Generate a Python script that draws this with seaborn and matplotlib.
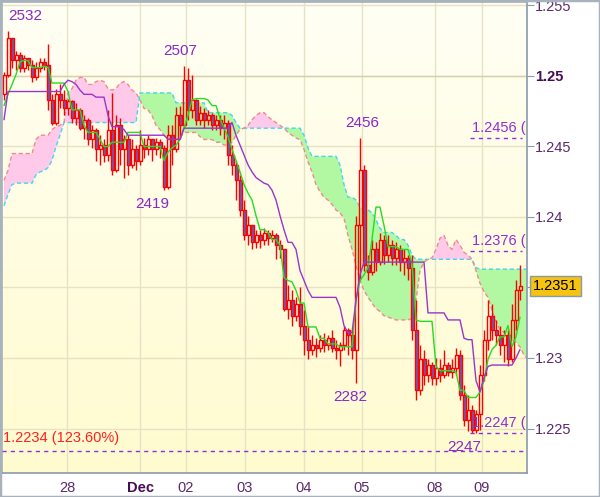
import numpy as np
import matplotlib
matplotlib.use('Agg')
import matplotlib.pyplot as plt
import matplotlib.transforms as mtransforms
from matplotlib.colors import LinearSegmentedColormap
from matplotlib.patches import Rectangle
import seaborn as sns

# --- data (EUR/USD hourly, prices in pips: 2532 -> 1.2532) ---
opens = [2487, 2501, 2527, 2511, 2515, 2506, 2513, 2508, 2499, 2506,
         2510, 2508, 2483, 2467, 2487, 2483, 2477, 2482, 2470, 2476,
         2463, 2469, 2455, 2462, 2448, 2451, 2444, 2462, 2433, 2465,
         2448, 2455, 2437, 2448, 2440, 2451, 2448, 2455, 2448, 2453,
         2449, 2421, 2458, 2448, 2472, 2465, 2497, 2476, 2483, 2469,
         2474, 2469, 2472, 2465, 2469, 2463, 2467, 2444, 2437, 2426,
         2405, 2387, 2394, 2382, 2387, 2384, 2389, 2385, 2387, 2380,
         2377, 2335, 2341, 2330, 2338, 2323, 2313, 2306, 2309, 2307,
         2313, 2309, 2314, 2307, 2306, 2309, 2320, 2316, 2306, 2394,
         2433, 2366, 2361, 2377, 2368, 2384, 2373, 2380, 2371, 2377,
         2368, 2371, 2364, 2320, 2277, 2299, 2288, 2295, 2286, 2293,
         2288, 2295, 2290, 2293, 2302, 2274, 2256, 2263, 2249, 2260,
         2288, 2313, 2330, 2320, 2316, 2309, 2316, 2299, 2327, 2348]
closes = [2501, 2527, 2511, 2515, 2506, 2513, 2508, 2499, 2506, 2510,
          2508, 2483, 2467, 2487, 2483, 2477, 2482, 2470, 2476, 2463,
          2469, 2455, 2462, 2448, 2451, 2444, 2462, 2433, 2465, 2448,
          2455, 2437, 2448, 2440, 2451, 2448, 2455, 2448, 2453, 2449,
          2421, 2458, 2448, 2472, 2465, 2497, 2476, 2483, 2469, 2474,
          2469, 2472, 2465, 2469, 2463, 2467, 2444, 2437, 2426, 2405,
          2387, 2394, 2382, 2387, 2384, 2389, 2385, 2387, 2380, 2377,
          2335, 2341, 2330, 2338, 2323, 2313, 2306, 2309, 2307, 2313,
          2309, 2314, 2307, 2306, 2309, 2320, 2316, 2306, 2394, 2433,
          2366, 2361, 2377, 2368, 2384, 2373, 2380, 2371, 2377, 2368,
          2371, 2364, 2320, 2277, 2299, 2288, 2295, 2286, 2293, 2288,
          2295, 2290, 2293, 2302, 2274, 2256, 2263, 2249, 2260, 2288,
          2313, 2330, 2320, 2316, 2309, 2316, 2299, 2327, 2348, 2351]
highs = [2503, 2532, 2522, 2518, 2517, 2515, 2513, 2511, 2510, 2513,
         2513, 2523, 2487, 2491, 2494, 2490, 2484, 2483, 2481, 2477,
         2472, 2470, 2465, 2463, 2458, 2455, 2476, 2488, 2472, 2470,
         2458, 2458, 2455, 2451, 2462, 2456, 2458, 2455, 2456, 2455,
         2451, 2465, 2465, 2478, 2479, 2507, 2506, 2501, 2484, 2479,
         2477, 2476, 2474, 2472, 2472, 2472, 2469, 2451, 2440, 2430,
         2412, 2401, 2392, 2391, 2391, 2392, 2391, 2391, 2389, 2384,
         2377, 2352, 2348, 2343, 2350, 2334, 2323, 2316, 2314, 2316,
         2318, 2316, 2320, 2313, 2311, 2323, 2321, 2320, 2401, 2456,
         2437, 2373, 2384, 2382, 2389, 2387, 2387, 2384, 2382, 2380,
         2377, 2373, 2373, 2341, 2309, 2306, 2299, 2297, 2300, 2299,
         2306, 2297, 2299, 2307, 2306, 2281, 2274, 2267, 2263, 2295,
         2320, 2341, 2338, 2327, 2323, 2320, 2320, 2338, 2355, 2366]
lows = [2483, 2499, 2506, 2504, 2503, 2503, 2504, 2496, 2497, 2503,
        2504, 2476, 2465, 2465, 2477, 2472, 2472, 2467, 2465, 2462,
        2455, 2451, 2449, 2440, 2437, 2439, 2440, 2430, 2432, 2437,
        2428, 2430, 2435, 2433, 2437, 2442, 2444, 2440, 2444, 2442,
        2419, 2420, 2437, 2446, 2455, 2463, 2469, 2470, 2465, 2465,
        2463, 2465, 2462, 2462, 2458, 2455, 2437, 2430, 2412, 2401,
        2384, 2380, 2377, 2378, 2378, 2380, 2380, 2382, 2370, 2371,
        2333, 2328, 2323, 2326, 2316, 2302, 2299, 2302, 2301, 2304,
        2304, 2306, 2304, 2299, 2294, 2306, 2302, 2299, 2282, 2355,
        2362, 2355, 2359, 2362, 2366, 2367, 2368, 2366, 2366, 2362,
        2359, 2355, 2313, 2270, 2274, 2281, 2283, 2281, 2281, 2283,
        2286, 2287, 2286, 2288, 2270, 2252, 2248, 2247, 2247, 2249,
        2284, 2306, 2313, 2309, 2302, 2297, 2294, 2297, 2320, 2341]

tenkan = [2479, 2487, 2494, 2501, 2510, 2511, 2511, 2506, 2506, 2506,
          2507, 2506, 2495, 2495, 2495, 2495, 2489, 2476, 2476, 2476,
          2465, 2460, 2460, 2460, 2455, 2450, 2450, 2453, 2453, 2453,
          2453, 2460, 2460, 2460, 2460, 2450, 2450, 2450, 2450, 2450,
          2440, 2446, 2449, 2451, 2455, 2463, 2472, 2483, 2484, 2484,
          2484, 2483, 2479, 2479, 2470, 2463, 2457, 2448, 2440, 2432,
          2423, 2417, 2412, 2401, 2391, 2391, 2389, 2384, 2384, 2380,
          2357, 2355, 2354, 2348, 2339, 2339, 2322, 2322, 2322, 2314,
          2314, 2310, 2310, 2310, 2308, 2308, 2308, 2308, 2341, 2355,
          2359, 2364, 2384, 2407, 2407, 2394, 2379, 2379, 2379, 2377,
          2377, 2377, 2367, 2327, 2326, 2326, 2326, 2326, 2294, 2291,
          2291, 2291, 2291, 2290, 2277, 2277, 2272, 2272, 2272, 2276,
          2284, 2299, 2306, 2309, 2315, 2315, 2323, 2308, 2315, 2329]
kijun = [2469, 2489, 2489, 2489, 2489, 2489, 2489, 2489, 2489, 2489,
         2489, 2489, 2489, 2489, 2489, 2494, 2497, 2496, 2494, 2490,
         2487, 2487, 2487, 2485, 2485, 2485, 2472, 2464, 2464, 2464,
         2462, 2458, 2458, 2458, 2458, 2458, 2458, 2458, 2458, 2458,
         2458, 2455, 2455, 2455, 2455, 2463, 2463, 2463, 2463, 2463,
         2463, 2463, 2463, 2463, 2463, 2463, 2463, 2467, 2458, 2451,
         2444, 2437, 2432, 2428, 2426, 2424, 2423, 2419, 2412, 2401,
         2391, 2382, 2382, 2377, 2362, 2355, 2348, 2343, 2343, 2343,
         2343, 2343, 2343, 2343, 2336, 2323, 2318, 2318, 2341, 2359,
         2368, 2368, 2368, 2368, 2368, 2368, 2368, 2368, 2368, 2368,
         2368, 2368, 2368, 2368, 2368, 2368, 2332, 2332, 2332, 2332,
         2332, 2327, 2327, 2327, 2327, 2314, 2313, 2313, 2284, 2276,
         2286, 2294, 2295, 2295, 2295, 2295, 2295, 2295, 2300, 2306]
span_a = [2408, 2416, 2423, 2424, 2424, 2424, 2424, 2424, 2430, 2432,
          2433, 2435, 2440, 2450, 2458, 2467, 2467, 2467, 2467, 2467,
          2467, 2467, 2467, 2467, 2467, 2467, 2467, 2467, 2467, 2467,
          2467, 2467, 2467, 2467, 2488, 2488, 2488, 2488, 2488, 2488,
          2488, 2488, 2488, 2481, 2481, 2481, 2481, 2481, 2481, 2481,
          2481, 2474, 2474, 2474, 2474, 2474, 2474, 2472, 2467, 2463,
          2463, 2463, 2463, 2463, 2463, 2463, 2463, 2463, 2463, 2463,
          2463, 2463, 2463, 2463, 2463, 2458, 2449, 2443, 2443, 2443,
          2443, 2443, 2443, 2443, 2437, 2423, 2414, 2414, 2412, 2407,
          2405, 2405, 2403, 2398, 2392, 2389, 2389, 2389, 2387, 2384,
          2384, 2380, 2373, 2370, 2370, 2370, 2370, 2370, 2370, 2370,
          2370, 2370, 2370, 2370, 2370, 2370, 2370, 2370, 2364, 2363,
          2363, 2363, 2363, 2363, 2363, 2363, 2363, 2363, 2363, 2363,
          2363, 2363]
span_b = [2426, 2433, 2445, 2445, 2445, 2445, 2445, 2445, 2455, 2458,
          2458, 2458, 2462, 2464, 2465, 2467, 2488, 2491, 2497, 2499,
          2499, 2494, 2494, 2496, 2497, 2496, 2491, 2490, 2491, 2495,
          2496, 2494, 2490, 2488, 2483, 2477, 2476, 2472, 2465, 2462,
          2458, 2456, 2455, 2455, 2456, 2460, 2460, 2460, 2460, 2457,
          2455, 2455, 2455, 2453, 2453, 2451, 2451, 2453, 2458, 2462,
          2463, 2465, 2469, 2472, 2474, 2474, 2471, 2469, 2467, 2465,
          2463, 2460, 2458, 2456, 2455, 2448, 2439, 2432, 2423, 2418,
          2414, 2412, 2409, 2405, 2403, 2399, 2387, 2377, 2366, 2355,
          2348, 2343, 2339, 2335, 2333, 2330, 2329, 2328, 2327, 2327,
          2327, 2327, 2328, 2341, 2362, 2368, 2370, 2371, 2377, 2385,
          2387, 2380, 2377, 2384, 2380, 2375, 2373, 2370, 2362, 2353,
          2347, 2343, 2334, 2326, 2320, 2318, 2315, 2313, 2311, 2308,
          2302, 2299]

day_ticks = [15.75, 34, 45.5, 60.25, 75, 89.5, 107.75, 119.5]
day_labels = ['28', 'Dec', '02', '03', '04', '05', '08', '09']
price_ticks = [1.225, 1.23, 1.235, 1.24, 1.245, 1.25, 1.255]
price_labels = ['1.225', '1.23', '', '1.24', '1.245', '1.25', '1.255']

# swing highs/lows: (bar, text, above?)
swing_bars = [1, 45, 40, 89, 88, 117]
swing_text = ['2532', '2507', '2419', '2456', '2282', '2247']
fib_levels = [1.2456, 1.2376, 1.2247]
fib_text = ['1.2456 (', '1.2376 (', '1.2247 (']
target_level = 1.2234
target_text = '1.2234 (123.60%)'
last_price = 1.2351


def to_price(p):
    return 1.0 + np.asarray(p, dtype=float) / 10000.0


sns.set_style('white')
plt.rcParams['font.family'] = ['Liberation Sans', 'DejaVu Sans']

o, c, h, l = to_price(opens), to_price(closes), to_price(highs), to_price(lows)
bars = np.arange(len(closes))
cloud_bars = np.arange(len(span_a))
sa, sb = to_price(span_a), to_price(span_b)

fig = plt.figure(figsize=(6.0, 4.97), dpi=100)
ax = fig.add_axes([2 / 600, 24 / 497, 525 / 600, 471 / 497])
xlim = (-0.5, 130.75)
ylim = (1.221844, 1.255248)

# background gradient
bg = LinearSegmentedColormap.from_list('bg', ['#fffff4', '#fffbcf'])
ax.imshow(np.linspace(0, 1, 256).reshape(-1, 1), cmap=bg, aspect='auto',
          extent=[xlim[0], xlim[1], ylim[0], ylim[1]], origin='upper', zorder=0)

# ichimoku cloud
ax.fill_between(cloud_bars, sa, sb, where=sa >= sb, interpolate=True,
                color='#b2f7a2', lw=0, zorder=1)
ax.fill_between(cloud_bars, sa, sb, where=sa < sb, interpolate=True,
                color='#ffc9ea', lw=0, zorder=1)
sns.lineplot(x=cloud_bars, y=sa, color='#3fd8ee', lw=1, linestyle=(0, (3, 2)), ax=ax, zorder=1.5)
sns.lineplot(x=cloud_bars, y=sb, color='#f28a8a', lw=1, linestyle=(0, (3, 2)), ax=ax, zorder=1.5)

# candles
bear = c < o
body_lo = np.minimum(o, c)
body_hi = np.maximum(o, c)
ax.vlines(bars, l, body_lo, color='#ff0000', lw=1, zorder=2)
ax.vlines(bars, body_hi, h, color='#ff0000', lw=1, zorder=2)
ax.bar(bars, np.maximum(body_hi - body_lo, 0.00004), bottom=body_lo, width=0.75,
       color=['#6e5cb4' if b else 'none' for b in bear],
       edgecolor='#ff0000', linewidth=1, zorder=3)

# tenkan / kijun
sns.lineplot(x=bars, y=to_price(tenkan), color='#22dd22', lw=1, ax=ax, zorder=4)
sns.lineplot(x=bars, y=to_price(kijun), color='#9a35cc', lw=1, ax=ax, zorder=4)

# fibonacci levels
dash = (0, (3, 3))
ax.axhline(target_level, color='#8f2fd8', lw=1, ls=dash, zorder=5)
ax.text(-0.3, target_level + 0.0004, target_text, color='#ff2020', fontsize=10.5,
        ha='left', va='bottom', zorder=6)
ax.hlines(fib_levels, 116.5, 129.6, color='#8f2fd8', lw=1, ls=dash, zorder=5)
for lev, txt in zip(fib_levels, fib_text):
    ax.text(117, lev + 0.0002, txt, color='#9030d0', fontsize=10.5,
            ha='left', va='bottom', zorder=6, clip_on=True)

# swing labels
for b, txt in zip(swing_bars, swing_text):
    if txt in ('2532', '2507', '2456'):
        y = h[b]
        off, va = 6, 'bottom'
    else:
        y = l[b]
        off, va = -5, 'top'
    dx = {'2532': 0, '2507': -1, '2419': -3, '2456': 0.5, '2282': -1.5, '2247': -2}[txt]
    ha = 'left' if txt == '2532' else 'center'
    ax.annotate(txt, (b + dx, y), xytext=(0, off), textcoords='offset points',
                color='#8a28c8', fontsize=11, ha=ha, va=va, zorder=6)

ax.set_xlim(*xlim)
ax.set_ylim(*ylim)

# grid
ax.set_axisbelow(True)
ax.set_xticks(day_ticks)
ax.set_xticklabels(day_labels)
ax.yaxis.tick_right()
ax.set_yticks(price_ticks)
ax.set_yticklabels(price_labels)
ax.grid(True, color='#e6e2c6', lw=1)
ax.axhline(1.25, color='#d6d2a6', lw=1, zorder=0.6)

axis_col = '#8a9aaa'
for side in ['left', 'top']:
    ax.spines[side].set_color('#a8b2bc')
for side in ['right', 'bottom']:
    ax.spines[side].set_color(axis_col)
for sp in ax.spines.values():
    sp.set_linewidth(1.2)

ax.tick_params(axis='y', which='both', right=True, left=False, direction='out',
               length=5, color=axis_col, labelcolor='#5b2a6b', labelsize=10.5, pad=1)
ax.tick_params(axis='x', direction='out', length=4, color=axis_col,
               labelcolor='#5b2a6b', labelsize=10.5, pad=2)
for lab in ax.get_xticklabels():
    if lab.get_text() == 'Dec':
        lab.set_fontweight('bold')
        lab.set_color('#4a0a5a')
for lab in ax.get_yticklabels():
    if lab.get_text() == '1.25':
        lab.set_fontweight('bold')
        lab.set_color('#4a0a5a')
ax.set_xlabel('')
ax.set_ylabel('')

# last price box
trans = mtransforms.blended_transform_factory(ax.transAxes, ax.transData)
ax.text(1.0 + 6 / 525, last_price, f'{last_price:.4f}', transform=trans,
        ha='left', va='center', fontsize=10.5, color='black', zorder=7, clip_on=False,
        bbox=dict(boxstyle='square,pad=0.22', fc='#f6c310', ec=axis_col, lw=1))

fig.patches.append(Rectangle((0, 0), 1, 1, transform=fig.transFigure, fill=False,
                             edgecolor='#a8b2bc', lw=2.5))

fig.savefig('out.png', dpi=100, facecolor='white')
